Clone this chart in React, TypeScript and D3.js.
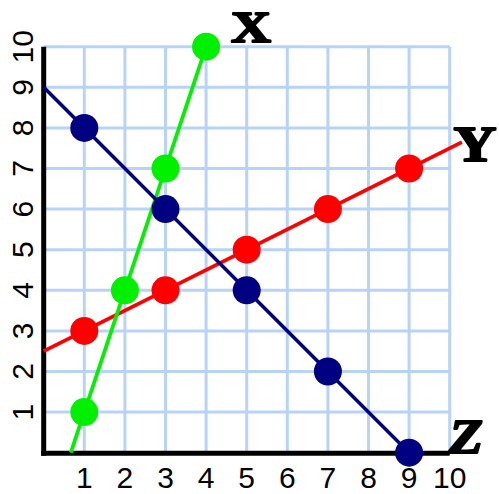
import React from "react";
import * as d3 from "d3";

// series
const xTicks = [1, 2, 3, 4, 5, 6, 7, 8, 9, 10];
const yTicks = [1, 2, 3, 4, 5, 6, 7, 8, 9, 10];

const zPoints: [number, number][] = [[1, 8], [3, 6], [5, 4], [7, 2], [9, 0]];
const zLine: [number, number][] = [[0, 9], [9, 0]];

const yPoints: [number, number][] = [[1, 3], [3, 4], [5, 5], [7, 6], [9, 7]];
const yLine: [number, number][] = [[0, 2.5], [10.3, 7.65]];

const xPoints: [number, number][] = [[1, 1], [2, 4], [3, 7], [4, 10]];
const xLine: [number, number][] = [[0.667, 0], [4, 10]];

const W = 499, H = 494;

export default function App() {
  const x = d3.scaleLinear().domain([0, 10]).range([43.7, 449.7]);
  const y = d3.scaleLinear().domain([0, 10]).range([452.7, 46.7]);
  const line = d3.line<[number, number]>().x(d => x(d[0])).y(d => y(d[1]));

  const grid = "#b8d3f8";
  const series = [
    { color: "#ff0000", line: yLine, pts: yPoints, w: 3.7 },
    { color: "#00f000", line: xLine, pts: xPoints, w: 3.7 },
    { color: "#000080", line: zLine, pts: zPoints, w: 3.5 },
  ];

  const nameFont = {
    fontFamily: "Liberation Serif, serif",
    fontWeight: "bold" as const,
    stroke: "#000",
    strokeWidth: 2,
    strokeLinejoin: "round" as const,
    textAnchor: "middle" as const,
    lengthAdjust: "spacingAndGlyphs" as const,
  };

  return (
    <div style={{ position: "fixed", left: 0, top: 0 }}>
      <svg width={W} height={H} style={{ display: "block", background: "#fff" }}>
        {/* grid */}
        {xTicks.map(t => (
          <line key={"gx" + t} x1={x(t)} x2={x(t)} y1={y(10)} y2={y(0)} stroke={grid} strokeWidth={3} />
        ))}
        {yTicks.map(t => (
          <line key={"gy" + t} x1={x(0)} x2={x(10)} y1={y(t)} y2={y(t)} stroke={grid} strokeWidth={3} />
        ))}

        {/* axes */}
        <line x1={x(0)} x2={x(0)} y1={y(10)} y2={y(0) + 3} stroke="#000" strokeWidth={5} />
        <line x1={x(0) - 2.5} x2={x(10)} y1={y(0) + 0.6} y2={y(0) + 0.6} stroke="#000" strokeWidth={5} />

        {/* tick labels */}
        {xTicks.map(t => (
          <text key={"tx" + t} x={x(t)} y={488} textAnchor="middle"
            fontFamily="Liberation Sans, Arial, sans-serif" fontSize={30} fill="#000">{t}</text>
        ))}
        {yTicks.map(t => (
          <text key={"ty" + t} transform={`translate(33,${y(t)}) rotate(-90)`} textAnchor="middle"
            fontFamily="Liberation Sans, Arial, sans-serif" fontSize={30} fill="#000">{t}</text>
        ))}

        {/* series */}
        {series.map((s, i) => (
          <g key={i}>
            <path d={line(s.line) || ""} fill="none" stroke={s.color} strokeWidth={s.w} />
            {s.pts.map((p, j) => (
              <circle key={j} cx={x(p[0])} cy={y(p[1])} r={14} fill={s.color} />
            ))}
          </g>
        ))}

        {/* series names */}
        <text x={251} y={42} fontSize={45} textLength={40} {...nameFont}>X</text>
        <text x={475} y={161} fontSize={50} textLength={43} {...nameFont}>Y</text>
        <text x={466} y={453} fontSize={48} fontStyle="italic" textLength={34} {...nameFont}>Z</text>
      </svg>
    </div>
  );
}
